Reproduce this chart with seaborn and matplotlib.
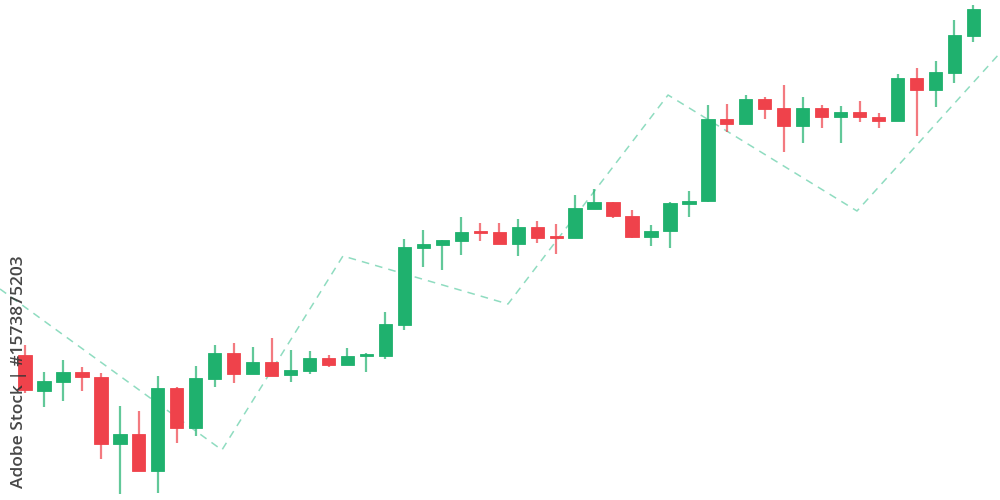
import numpy as np
import pandas as pd
import matplotlib
matplotlib.use("Agg")
import matplotlib.pyplot as plt
import seaborn as sns

# Candle data (price units)
opens = [145, 109, 118, 128, 123, 56, 66, 29, 112, 72,
         121, 147, 126, 138, 125, 129, 142, 135, 144, 144,
         175, 252, 255, 259, 268, 268, 256, 273, 263, 262,
         291, 298, 284, 263, 269, 296, 299, 381, 376, 401,
         392, 374, 392, 383, 388, 383, 379, 422, 410, 427, 464]
closes = [110, 119, 128, 123, 56, 66, 29, 112, 72, 122,
          147, 126, 138, 124, 130, 142, 135, 144, 146, 176,
          253, 256, 260, 268, 267, 256, 273, 262, 262, 292,
          298, 284, 263, 269, 297, 299, 381, 376, 401, 391,
          374, 392, 383, 388, 383, 379, 422, 410, 428, 465, 491]
highs = [155, 128, 140, 133, 127, 94, 89, 124, 113, 134,
         155, 157, 153, 162, 150, 149, 145, 152, 147, 188,
         261, 270, 260, 283, 277, 277, 281, 279, 276, 305,
         311, 298, 290, 275, 298, 309, 395, 396, 405, 403,
         415, 403, 395, 394, 399, 387, 426, 432, 439, 480, 495]
lows = [107, 93, 99, 109, 41, 6, 29, 7, 57, 64,
        113, 117, 126, 124, 118, 126, 133, 135, 128, 141,
        170, 233, 230, 245, 259, 256, 244, 257, 246, 262,
        291, 282, 262, 254, 252, 283, 298, 368, 376, 381,
        348, 357, 372, 357, 378, 372, 379, 364, 393, 417, 458]

# Dashed zigzag trend line
zig_x = [-1.32, 10.38, 16.76, 25.46, 33.9, 43.86, 51.4]
zig_y = [211, 50, 244, 196, 405, 289, 447]

watermark = "Adobe Stock | #1573875203"

green = "#1fb16e"
red = "#ef424b"
line_col = "#8fdcc0"

df = pd.DataFrame({"open": opens, "close": closes, "high": highs, "low": lows})
df["idx"] = np.arange(len(df))
df["up"] = df["close"] >= df["open"]
df["color"] = np.where(df["up"], green, red)
df["bottom"] = df[["open", "close"]].min(axis=1)
df["height"] = (df["close"] - df["open"]).abs().clip(lower=2)

sns.set_style("white")
fig = plt.figure(figsize=(10, 5), dpi=100)
ax = fig.add_axes([0, 0, 1, 1])

# trend line
sns.lineplot(x=zig_x, y=zig_y, ax=ax, color=line_col, linewidth=1.1,
             linestyle=(0, (5, 4)), sort=False, zorder=1)

# wicks
ax.vlines(df["idx"], df["low"], df["high"], colors=df["color"],
          linewidth=1.6, alpha=0.7, zorder=2)
# bodies
ax.bar(df["idx"], df["height"], bottom=df["bottom"], width=0.7,
       color=df["color"], edgecolor=df["color"], linewidth=0.6, zorder=3)

ax.set_xlim(-1.32, 51.4)
ax.set_ylim(0, 500)
ax.axis("off")

fig.text(0.019, 0.49, watermark, rotation=90, ha="center", va="top",
         fontsize=12.5, fontweight="semibold", color="#333333", alpha=0.9,
         family=["Open Sans", "DejaVu Sans"], zorder=10)

fig.savefig("out.png", dpi=100, facecolor="white")
